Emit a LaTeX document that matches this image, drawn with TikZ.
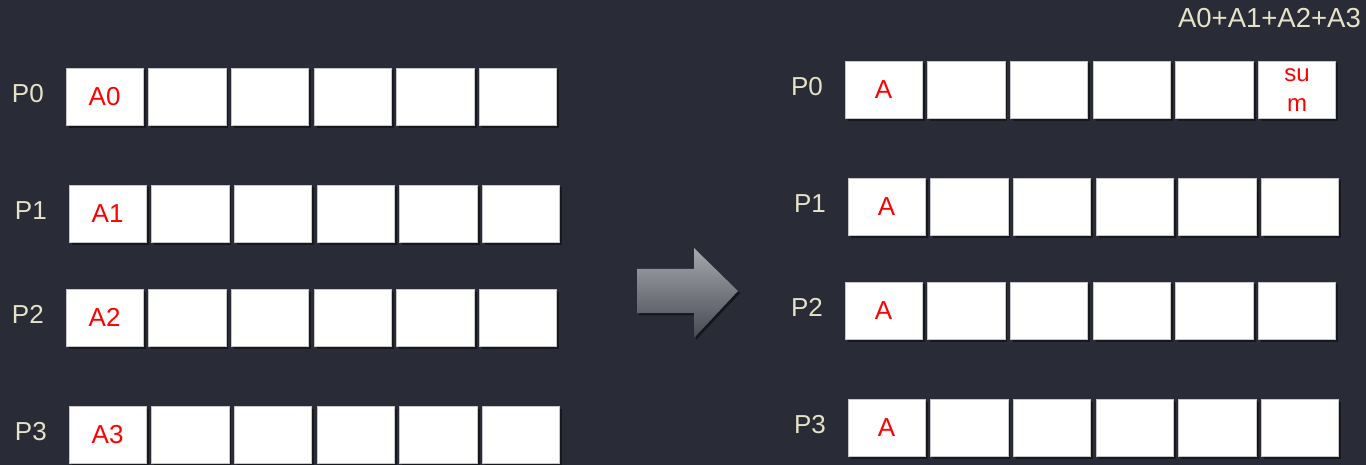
\documentclass[tikz,border=0pt]{standalone}
\usepackage{fontspec}
\setmainfont{Liberation Sans}
\usetikzlibrary{positioning}
\usetikzlibrary{shadows}
\definecolor{bgdark}{HTML}{292C36}
\definecolor{labeltan}{HTML}{E6E2C8}
\definecolor{arrowtop}{HTML}{A5A8AD}
\definecolor{arrowbottom}{HTML}{464953}
\tikzstyle{cell}    = [rectangle, draw=gray!45, line width=0.8pt, fill=white,
                       minimum width=77.2pt, minimum height=57.2pt, inner sep=0pt, outer sep=0pt,
                       text=red, font=\fontsize{26}{30}\selectfont,
                       drop shadow={shadow xshift=2.5pt, shadow yshift=-2.5pt, opacity=0.45, fill=black}]
\tikzstyle{proc}    = [inner sep=0pt, text=labeltan, font=\fontsize{26}{30}\selectfont]
\tikzstyle{bigarrow} = [top color=arrowtop, bottom color=arrowbottom,
                        drop shadow={shadow xshift=2pt, shadow yshift=-2pt, opacity=0.5, fill=black}]

\begin{document}
\begin{tikzpicture}[x=1pt, y=-1pt]
\fill[bgdark] (0,0) rectangle (1366,465);
\useasboundingbox (0,0) rectangle (1366,465);
% rows of buffers, before and after
\foreach \r/\x/\y/\txt/\p in {l0/66/68/A0/P0, l1/69/185/A1/P1, l2/66/289/A2/P2, l3/69/406/A3/P3,
                              r0/845/61/A/P0, r1/848/178/A/P1, r2/845/282/A/P2, r3/848/399/A/P3} {
  \node (\r c1) [cell, anchor=north west] at (\x,\y) {\raisebox{-3pt}{\txt}};
  \foreach \i [count=\j from 1] in {2,...,5}
    \node (\r c\i) [cell, right=5.5pt of \r c\j] {};
  \node (\r lab) [proc, left=22pt of \r c1, yshift=3pt] {\p};
}
\foreach \r in {l0, l1, l2, l3, r1, r2, r3}
  \node (\r c6) [cell, right=5.5pt of \r c5] {};
\node (r0c6) [cell, right=5.5pt of r0c5, align=center, font=\fontsize{24}{30}\selectfont] {\raisebox{-4pt}{su}\\\raisebox{-4pt}{m}};
\node (total) [proc, anchor=base east, font=\fontsize{27.5}{30}\selectfont] at (1361,28) {A0+A1+A2+A3};
% reduce step
\path[bigarrow] (637,269) -- (694,269) -- (694,248) -- (738,291) -- (694,338)
  -- (694,313) -- (637,313) -- cycle;
\end{tikzpicture}
\end{document}
